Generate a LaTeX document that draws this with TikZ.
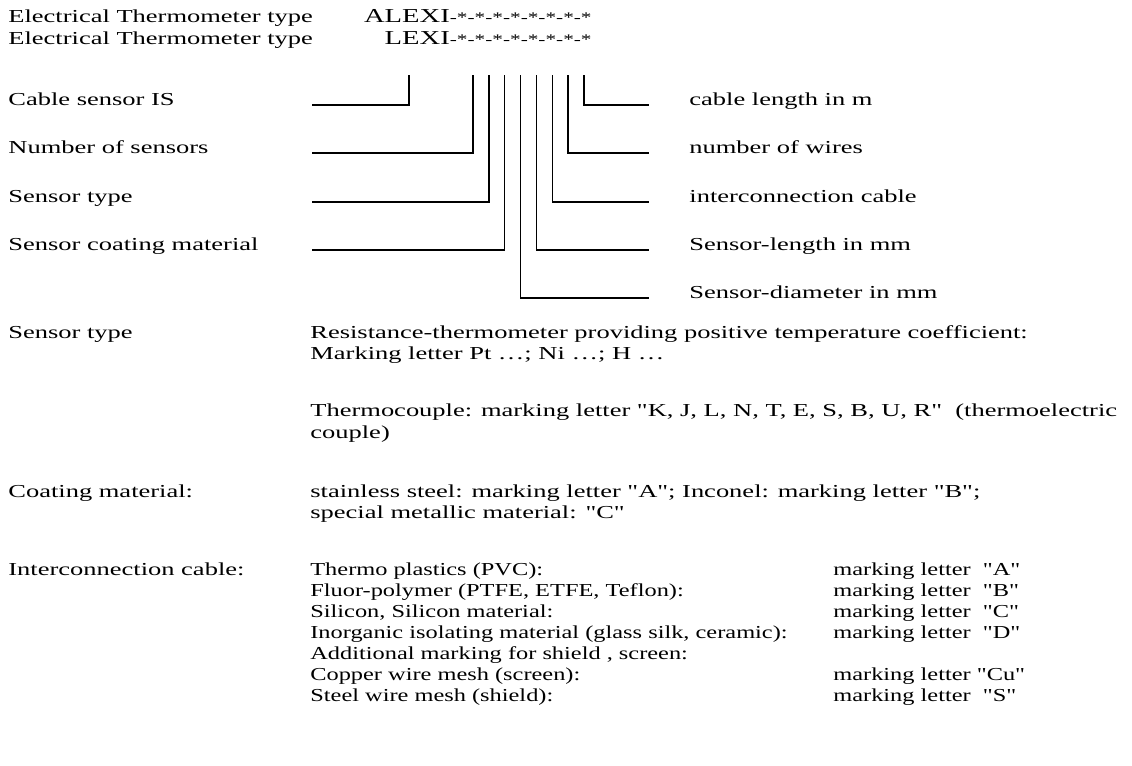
\documentclass[tikz,border=0pt]{standalone}
\usepackage{fontspec}
\setmainfont{Liberation Serif}[Ligatures=TeXOff]
\usetikzlibrary{positioning}
\newcommand{\starcode}{{\fontsize{11}{12}\selectfont -*-*-*-*-*-*-*-*}}

\begin{document}
\begin{tikzpicture}[x=0.75pt, y=-0.75pt,
    txt/.style={anchor=base west, inner sep=0pt, xscale=1.45,
                font=\fontsize{13.7}{16}\selectfont},
    listtxt/.style={txt, xscale=0.92},
    code/.style={txt, anchor=base east, font=\fontsize{14.8}{16}\selectfont},
    lead/.style={line width=1.1pt, line join=miter}
  ]
    \useasboundingbox (0,0) rectangle (1132,765);

    % type designation
    \node[txt] (hd1) at (8,22) {Electrical Thermometer type};
    \node[txt] (hd2) at (8,44) {Electrical Thermometer type};
    \node[code] (ty1) at (592,22) {ALEXI\starcode};
    \node[code] (ty2) at (592,44) {LEXI\starcode};

    % left labels
    \node[txt] (cab) at (8,105) {Cable sensor IS};
    \node[txt] (num) at (8,153) {Number of sensors};
    \node[txt] (sty) at (8,202) {Sensor type};
    \node[txt] (coa) at (8,250) {Sensor coating material};

    % right labels
    \node[txt] (len) at (689,105) {cable length in m};
    \node[txt] (wir) at (689,153) {number of wires};
    \node[txt] (ica) at (689,202) {interconnection cable};
    \node[txt] (sle) at (689,250) {Sensor-length in mm};
    \node[txt] (sdi) at (689,298) {Sensor-diameter in mm};

    % leader tops under the code
    \coordinate (c0) at (409,75);
    \foreach \i in {1,...,8}
      \coordinate (c\i) at ({473+15.86*(\i-1)},75);

    % leader ends
    \coordinate (e0) at (312,105);
    \coordinate (e1) at (312,153);
    \coordinate (e2) at (312,202);
    \coordinate (e3) at (312,250);
    \coordinate (r4) at (649,298);
    \coordinate (r5) at (649,250);
    \coordinate (r6) at (649,202);
    \coordinate (r7) at (649,153);
    \coordinate (r8) at (649,105);

    \draw[lead] (c0) |- (e0);
    \draw[lead] (c1) |- (e1);
    \draw[lead] (c2) |- (e2);
    \draw[lead] (c3) |- (e3);
    \draw[lead] (c4) |- (r4);
    \draw[lead] (c5) |- (r5);
    \draw[lead] (c6) |- (r6);
    \draw[lead] (c7) |- (r7);
    \draw[lead] (c8) |- (r8);

    % sensor type
    \node[txt] (hst) at (8,338) {Sensor type};
    \node[txt] (rt1) at (310,338) {Resistance-thermometer providing positive temperature coefficient:};
    \node[txt] (rt2) at (310,359) {Marking letter Pt …; Ni …; H …};
    \node[txt] (tc1) at (310,416) {Thermocouple: marking letter "K, J, L, N, T, E, S, B, U, R"\ \ (thermoelectric};
    \node[txt] (tc2) at (310,438) {couple)};

    % coating material
    \node[txt] (hco) at (8,497) {Coating material:};
    \node[txt] (cm1) at (310,497) {stainless steel: marking letter "A"; Inconel: marking letter "B";};
    \node[txt] (cm2) at (310,518) {special metallic material: "C"};

    % interconnection cable
    \node[txt] (hic) at (8,575) {Interconnection cable:};
    \node[listtxt] (ic1) at (310,575) {Thermo plastics (PVC):};
    \node[listtxt] (ic2) at (310,596) {Fluor-polymer (PTFE, ETFE, Teflon):};
    \node[listtxt] (ic3) at (310,617) {Silicon, Silicon material:};
    \node[listtxt] (ic4) at (310,638) {Inorganic isolating material (glass silk, ceramic):};
    \node[listtxt] (ic5) at (310,659) {Additional marking for shield , screen:};
    \node[listtxt] (ic6) at (310,680) {Copper wire mesh (screen):};
    \node[listtxt] (ic7) at (310,701) {Steel wire mesh (shield):};

    \node[listtxt] (mk1) at (833,575) {marking letter\ \ "A"};
    \node[listtxt] (mk2) at (833,596) {marking letter\ \ "B"};
    \node[listtxt] (mk3) at (833,617) {marking letter\ \ "C"};
    \node[listtxt] (mk4) at (833,638) {marking letter\ \ "D"};
    \node[listtxt] (mk6) at (833,680) {marking letter "Cu"};
    \node[listtxt] (mk7) at (833,701) {marking letter\ \ "S"};
  \end{tikzpicture}
\end{document}
